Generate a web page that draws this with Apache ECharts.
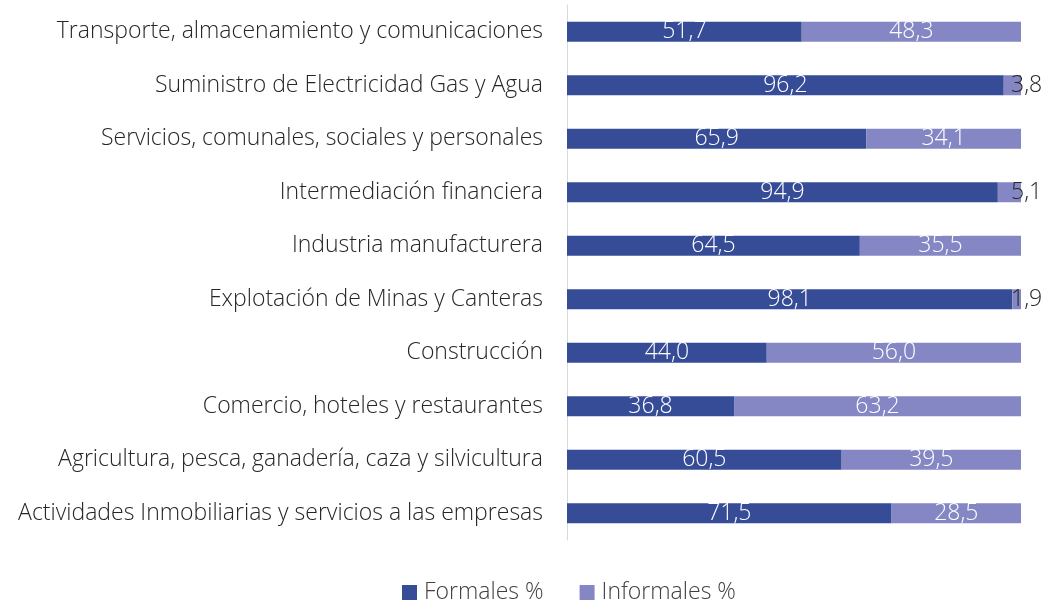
<!DOCTYPE html>
<html>
<head>
<meta charset="utf-8">
<script src="https://cdn.jsdelivr.net/npm/echarts@6/dist/echarts.min.js"></script>
<style>
  html, body { margin: 0; padding: 0; background: #fff; }
  #chart { width: 1046px; height: 607px; }
</style>
</head>
<body>
<div id="chart"></div>
<script>
// categories listed bottom to top, as the category axis draws them
var categories = [
    'Actividades Inmobiliarias y servicios a las empresas',
    'Agricultura, pesca, ganadería, caza y silvicultura',
    'Comercio, hoteles y restaurantes',
    'Construcción',
    'Explotación de Minas y Canteras',
    'Industria manufacturera',
    'Intermediación financiera',
    'Servicios, comunales, sociales y personales',
    'Suministro de Electricidad Gas y Agua',
    'Transporte, almacenamiento y comunicaciones'
];
var formales = [71.5, 60.5, 36.8, 44.0, 98.1, 64.5, 94.9, 65.9, 96.2, 51.7];
var informales = [28.5, 39.5, 63.2, 56.0, 1.9, 35.5, 5.1, 34.1, 3.8, 48.3];

var FONT = '"Open Sans", sans-serif';
var FS = 23;

function fmt(v) {
    return v.toFixed(1).replace('.', ',');
}

function init() {
    var myChart = echarts.init(document.getElementById('chart'));

    var informalData = informales.map(function (v) {
        var item = { value: v };
        if (v < 10) {
            // small slices: label sits past the end of the bar in dark text
            item.label = { position: 'right', distance: -10, color: '#262626' };
        }
        return item;
    });

    myChart.setOption({
        animation: false,
        grid: { left: 567, right: 25, top: 5, bottom: 67 },
        legend: {
            bottom: -2,
            left: 397,
            itemWidth: 15,
            itemHeight: 15,
            itemGap: 36,
            icon: 'rect',
            textStyle: {
                fontFamily: FONT, fontSize: FS, fontWeight: 300, color: '#404040',
                padding: [0, 0, 0, 2]
            },
            data: ['Formales %', 'Informales %']
        },
        xAxis: {
            type: 'value',
            min: 0,
            max: 100,
            show: false
        },
        yAxis: {
            type: 'category',
            data: categories,
            axisLine: { lineStyle: { color: '#d9d9d9' } },
            axisTick: { show: false },
            axisLabel: {
                margin: 24,
                fontFamily: FONT,
                fontSize: FS,
                fontWeight: 300,
                color: '#262626'
            }
        },
        series: [
            {
                name: 'Formales %',
                type: 'bar',
                stack: 'total',
                barWidth: 20,
                data: formales,
                itemStyle: { color: '#374c97' },
                label: {
                    show: true,
                    position: 'inside',
                    color: '#fff',
                    fontFamily: FONT,
                    fontSize: FS,
                    fontWeight: 300,
                    formatter: function (p) { return fmt(p.value); }
                }
            },
            {
                name: 'Informales %',
                type: 'bar',
                stack: 'total',
                barWidth: 20,
                data: informalData,
                itemStyle: { color: '#8487c3' },
                label: {
                    show: true,
                    position: 'inside',
                    color: '#fff',
                    fontFamily: FONT,
                    fontSize: FS,
                    fontWeight: 300,
                    formatter: function (p) { return fmt(p.value); }
                }
            }
        ]
    });
}

document.addEventListener('DOMContentLoaded', function () {
    init();
});
</script>
</body>
</html>
